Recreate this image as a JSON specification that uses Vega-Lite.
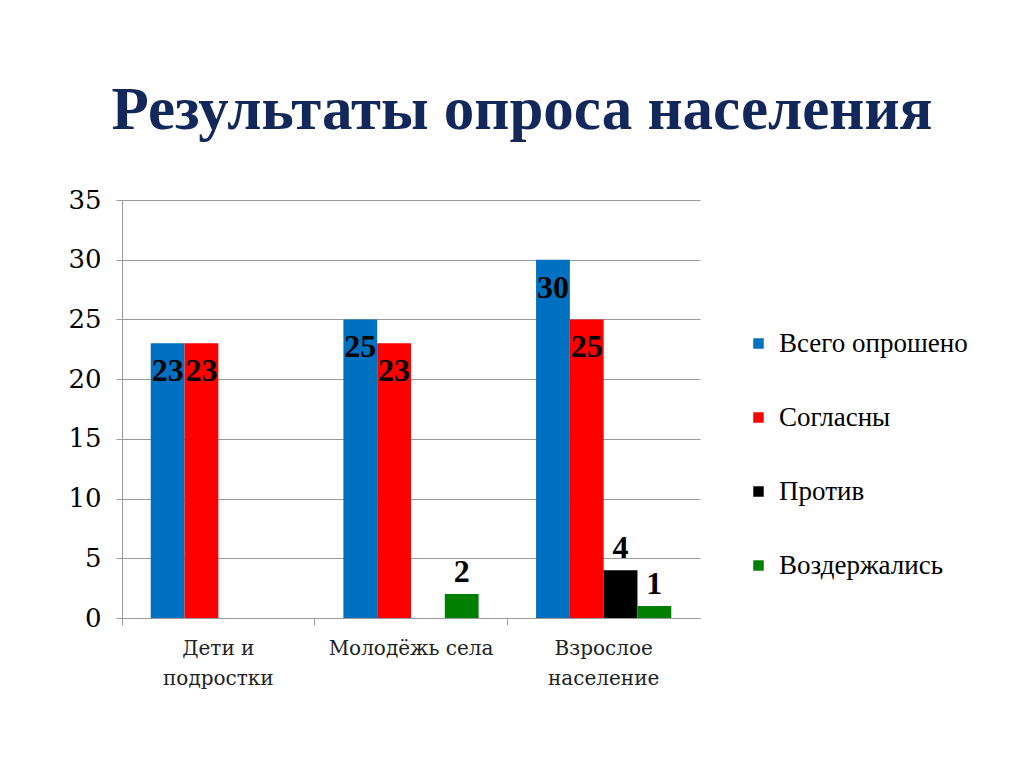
{
  "$schema": "https://vega.github.io/schema/vega-lite/v6.json",
  "autosize": "none",
  "width": 578,
  "height": 418,
  "padding": {"left": 122, "top": 200, "right": 324, "bottom": 149},
  "background": "white",
  "title": {
    "text": "Результаты опроса населения",
    "font": "Liberation Serif",
    "fontSize": 61,
    "fontWeight": "bold",
    "color": "#12285A",
    "anchor": "middle",
    "frame": "group",
    "dx": 111,
    "offset": 45
  },
  "data": {
    "values": [
      {"group": "Дети и подростки", "series": "Всего опрошено", "value": 23},
      {"group": "Дети и подростки", "series": "Согласны", "value": 23},
      {"group": "Дети и подростки", "series": "Против", "value": 0},
      {"group": "Дети и подростки", "series": "Воздержались", "value": 0},
      {"group": "Молодёжь села", "series": "Всего опрошено", "value": 25},
      {"group": "Молодёжь села", "series": "Согласны", "value": 23},
      {"group": "Молодёжь села", "series": "Против", "value": 0},
      {"group": "Молодёжь села", "series": "Воздержались", "value": 2},
      {"group": "Взрослое население", "series": "Всего опрошено", "value": 30},
      {"group": "Взрослое население", "series": "Согласны", "value": 25},
      {"group": "Взрослое население", "series": "Против", "value": 4},
      {"group": "Взрослое население", "series": "Воздержались", "value": 1}
    ]
  },
  "encoding": {
    "x": {
      "field": "group",
      "type": "nominal",
      "sort": null,
      "scale": {"paddingInner": 0, "paddingOuter": 0},
      "axis": {
        "title": null,
        "labelAngle": 0,
        "labelFont": "DejaVu Serif",
        "labelFontSize": 20,
        "labelColor": "#222222",
        "labelPadding": 13,
        "labelLineHeight": 30,
        "labelExpr": "datum.value == 'Дети и подростки' ? ['Дети и', 'подростки'] : datum.value == 'Взрослое население' ? ['Взрослое', 'население'] : datum.value",
        "domainColor": "#9a9a9a",
        "tickColor": "#9a9a9a",
        "tickSize": 7,
        "bandPosition": 0,
        "grid": false
      }
    },
    "xOffset": {
      "field": "series",
      "type": "nominal",
      "sort": ["Всего опрошено", "Согласны", "Против", "Воздержались"],
      "scale": {"paddingInner": 0, "paddingOuter": 0.85}
    },
    "y": {
      "field": "value",
      "type": "quantitative",
      "scale": {"domain": [0, 35]},
      "axis": {
        "title": null,
        "values": [0, 5, 10, 15, 20, 25, 30, 35],
        "labelFont": "DejaVu Serif",
        "labelFontSize": 26,
        "labelColor": "#000000",
        "labelPadding": 15,
        "tickColor": "#9a9a9a",
        "tickSize": 6,
        "domainColor": "#9a9a9a",
        "gridColor": "#9a9a9a",
        "gridWidth": 1
      }
    }
  },
  "layer": [
    {
      "mark": {"type": "bar"},
      "encoding": {
        "color": {
          "field": "series",
          "type": "nominal",
          "sort": ["Всего опрошено", "Согласны", "Против", "Воздержались"],
          "scale": {
            "domain": ["Всего опрошено", "Согласны", "Против", "Воздержались"],
            "range": ["#0070C0", "#FF0000", "#000000", "#008000"]
          },
          "legend": {
            "title": null,
            "orient": "none",
            "legendX": 623,
            "legendY": 130,
            "symbolType": "square",
            "symbolSize": 110,
            "symbolStrokeWidth": 0,
            "labelFont": "Liberation Serif",
            "labelFontSize": 27,
            "labelColor": "#000000",
            "labelOffset": 7,
            "labelLimit": 400,
            "rowPadding": 46
          }
        }
      }
    },
    {
      "transform": [{"filter": "datum.value >= 10"}],
      "mark": {
        "type": "text",
        "font": "Liberation Serif",
        "fontSize": 32,
        "fontWeight": "bold",
        "baseline": "middle",
        "dy": 28,
        "color": "#000000"
      },
      "encoding": {"text": {"field": "value", "type": "quantitative"}}
    },
    {
      "transform": [{"filter": "datum.value > 0 && datum.value < 10"}],
      "mark": {
        "type": "text",
        "font": "Liberation Serif",
        "fontSize": 32,
        "fontWeight": "bold",
        "baseline": "middle",
        "dy": -22,
        "color": "#000000"
      },
      "encoding": {"text": {"field": "value", "type": "quantitative"}}
    }
  ],
  "config": {
    "view": {"stroke": null}
  }
}
